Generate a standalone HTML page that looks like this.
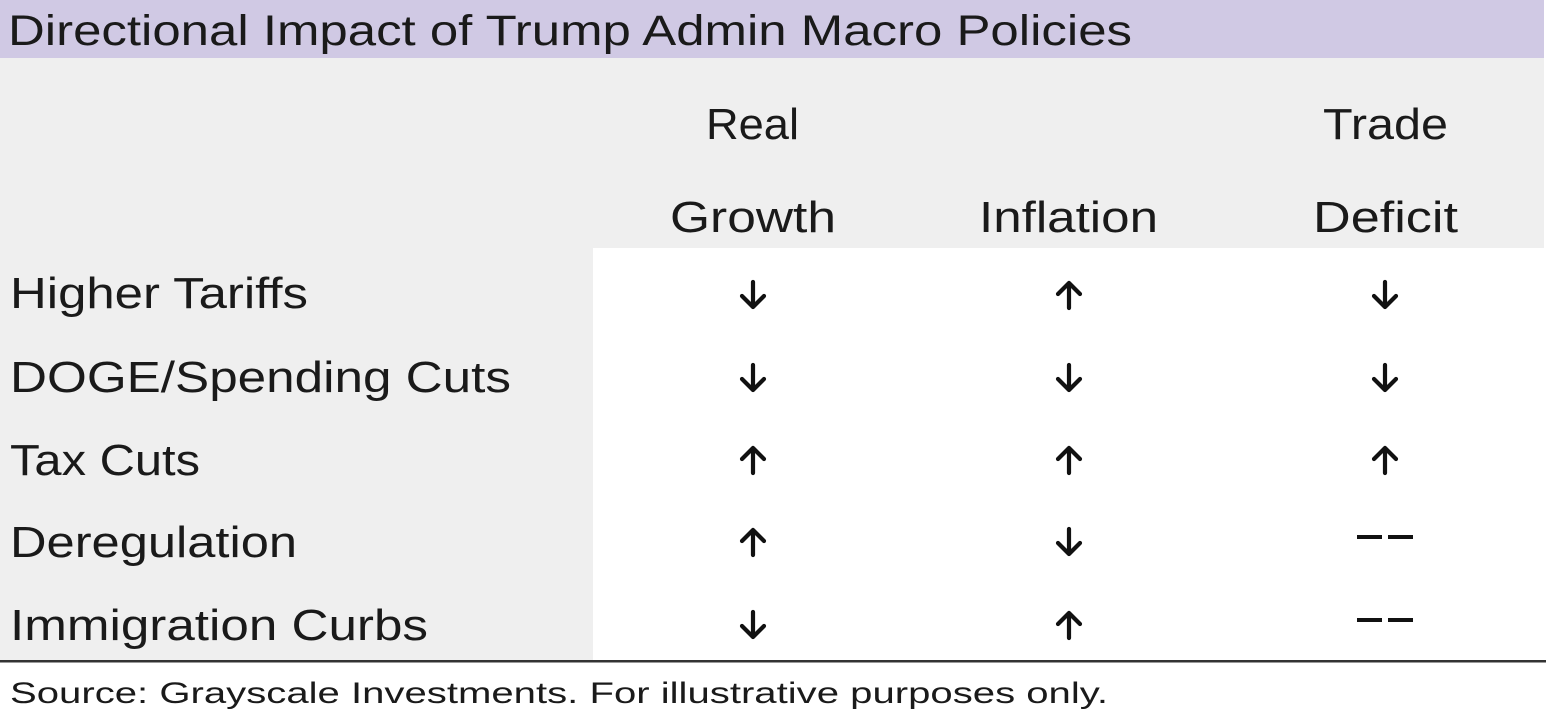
<!DOCTYPE html>
<html><head><meta charset="utf-8"><style>
html,body{margin:0;padding:0;background:#fff;}
svg{display:block;}
text{font-family:"Liberation Sans",sans-serif;fill:#1a1a1a;}
</style></head><body>
<svg width="1546" height="720" viewBox="0 0 1546 720">
<rect x="0" y="0" width="1544" height="58" fill="#d0c9e4"/>
<rect x="0" y="58" width="1544" height="190" fill="#efefef"/>
<rect x="0" y="248" width="593" height="412" fill="#efefef"/>
<rect x="0" y="660" width="1546" height="2.5" fill="#333"/>
<text x="8" y="45" font-size="43" textLength="1124" lengthAdjust="spacingAndGlyphs">Directional Impact of Trump Admin Macro Policies</text>
<g font-size="44">
<text x="706" y="139" textLength="93" lengthAdjust="spacingAndGlyphs">Real</text>
<text x="670" y="232" textLength="166" lengthAdjust="spacingAndGlyphs">Growth</text>
<text x="979" y="232" textLength="179" lengthAdjust="spacingAndGlyphs">Inflation</text>
<text x="1323" y="139" textLength="125" lengthAdjust="spacingAndGlyphs">Trade</text>
<text x="1313" y="232" textLength="145" lengthAdjust="spacingAndGlyphs">Deficit</text>
<text x="10" y="308" textLength="298" lengthAdjust="spacingAndGlyphs">Higher Tariffs</text>
<text x="10" y="392" textLength="501" lengthAdjust="spacingAndGlyphs">DOGE/Spending Cuts</text>
<text x="10" y="475" textLength="190" lengthAdjust="spacingAndGlyphs">Tax Cuts</text>
<text x="10" y="557" textLength="287" lengthAdjust="spacingAndGlyphs">Deregulation</text>
<text x="10" y="640" textLength="418" lengthAdjust="spacingAndGlyphs">Immigration Curbs</text>
</g>
<text x="10" y="703" font-size="30" textLength="1098" lengthAdjust="spacingAndGlyphs">Source: Grayscale Investments. For illustrative purposes only.</text>
<defs>
<g id="dn"><path d="M0,-13 V12 M-11,1 L0,12 L11,1" stroke="#111" stroke-width="4.2" fill="none" stroke-linecap="round" stroke-linejoin="round"/></g>
<g id="up"><path d="M0,13 V-12 M-11,-1 L0,-12 L11,-1" stroke="#111" stroke-width="4.2" fill="none" stroke-linecap="round" stroke-linejoin="round"/></g>
<g id="dd"><rect x="-28" y="-2" width="25" height="4" fill="#111"/><rect x="3" y="-2" width="25" height="4" fill="#111"/></g>
</defs>
<use href="#dn" x="753" y="295"/><use href="#up" x="1069" y="295"/><use href="#dn" x="1385" y="295"/>
<use href="#dn" x="753" y="378"/><use href="#dn" x="1069" y="378"/><use href="#dn" x="1385" y="378"/>
<use href="#up" x="753" y="460"/><use href="#up" x="1069" y="460"/><use href="#up" x="1385" y="460"/>
<use href="#up" x="753" y="542"/><use href="#dn" x="1069" y="542"/><use href="#dd" x="1385" y="537"/>
<use href="#dn" x="753" y="625"/><use href="#up" x="1069" y="625"/><use href="#dd" x="1385" y="620"/>
</svg>
</body></html>
